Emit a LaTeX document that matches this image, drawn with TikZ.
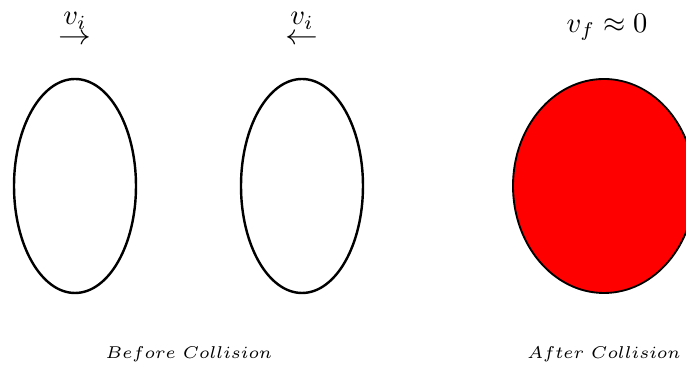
\documentclass[tikz,border=0pt]{standalone}
\usepackage{amsmath,amssymb}
\usepackage{tikz}
\usetikzlibrary{positioning,calc}
\definecolor{BallRed}{RGB}{255,0,0}
\tikzset{
  ball/.style={draw=black,line width=0.85pt},
  lump/.style={draw=black,fill=BallRed,line width=0.65pt},
  vel/.style={inner sep=0pt,font=\normalsize},
  caption/.style={inner sep=0pt,font=\fontsize{6.1}{7}\selectfont},
}

\begin{document}
\begin{tikzpicture}[x=0.351pt,y=-0.351pt]
\useasboundingbox (0,0) rectangle (686,369);
\coordinate (b1) at (75,186);
\coordinate (b2) at (302,186);
\coordinate (b3) at (604,186);
\draw[ball] (b1) ellipse [x radius=61,y radius=107];
\draw[ball] (b2) ellipse [x radius=61,y radius=107];
\draw[lump] (b3) ellipse [x radius=91,y radius=107];
\node[vel] (vleft) at (75,21) {$v_i$};
\node[vel] (aleft) at (75,39) {\scalebox{1.15}[1]{$\rightarrow$}};
\node[vel] (vright) at (302,21) {$v_i$};
\node[vel] (aright) at (302,39) {\scalebox{1.15}[1]{$\leftarrow$}};
\node[vel] (vfinal) at (607,27) {$v_f\approx 0$};
\node[caption] (before) at (189,354) {$Before\ Collision$};
\node[caption] (after) at (604,354) {$After\ Collision$};
\end{tikzpicture}
\end{document}
